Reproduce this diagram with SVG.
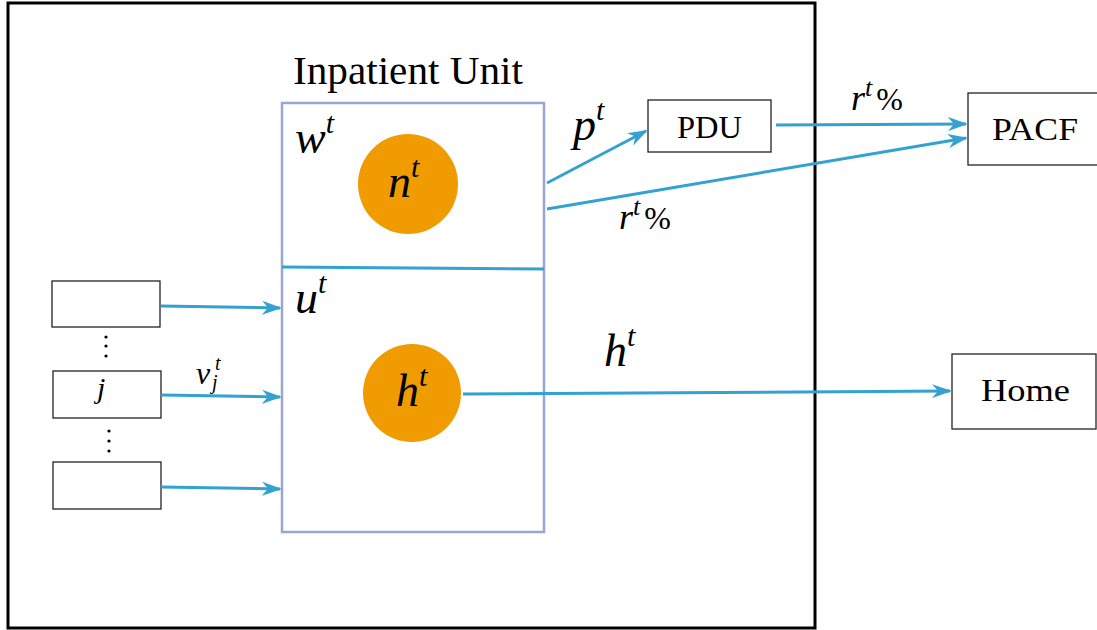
<svg xmlns="http://www.w3.org/2000/svg" width="1097" height="630" viewBox="0 0 1097 630">
<style>
.box{fill:#fff;stroke:#222;stroke-width:1.3}
.conn{fill:none;stroke:#33a2d0;stroke-width:3}
.math{font-family:"Liberation Serif","DejaVu Serif",serif;font-style:italic;fill:#000}
.rm{font-family:"Liberation Serif","DejaVu Serif",serif;fill:#000}
.circ{fill:#f09c00}
</style>
<defs>
<marker id="ah" viewBox="0 0 20 14" refX="18" refY="7" markerWidth="20" markerHeight="14" markerUnits="userSpaceOnUse" orient="auto">
<path d="M0,0 L20,7 L0,14 L6,7 Z" fill="#33a2d0"/>
</marker>
</defs>
<rect width="1097" height="630" fill="#fff"/>
<g id="system">
<rect x="8" y="3" width="807" height="625" fill="none" stroke="#000" stroke-width="3"/>
</g>
<g id="inpatient">
<text x="293" y="84" class="rm" font-size="40" textLength="230" lengthAdjust="spacingAndGlyphs">Inpatient Unit</text>
<rect x="282" y="103" width="262" height="429" fill="none" stroke="#99a6d2" stroke-width="2.5"/>
<text x="295" y="153" class="math" font-size="46">w<tspan dy="-20" font-size="30">t</tspan></text>
<text x="295" y="313" class="math" font-size="46">u<tspan dy="-20" font-size="30">t</tspan></text>
</g>
<g id="n">
<circle cx="408" cy="184" r="50" class="circ"/>
<text x="388" y="197" class="math" font-size="46">n<tspan dy="-20" font-size="30">t</tspan></text>
</g>
<g id="h">
<circle cx="412" cy="393" r="49" class="circ"/>
<text x="396" y="406" class="math" font-size="46">h<tspan dy="-20" font-size="30">t</tspan></text>
</g>
<g id="pdu">
<rect x="648" y="100" width="123" height="52" class="box"/>
<text x="677" y="138" class="rm" font-size="32" textLength="65" lengthAdjust="spacingAndGlyphs">PDU</text>
</g>
<g id="pacf">
<rect x="968" y="93" width="130" height="72" class="box"/>
<text x="992" y="140" class="rm" font-size="32" textLength="86" lengthAdjust="spacingAndGlyphs">PACF</text>
</g>
<g id="home">
<rect x="952" y="354" width="144" height="75" class="box"/>
<text x="981" y="401" class="rm" font-size="32" textLength="89" lengthAdjust="spacingAndGlyphs">Home</text>
</g>
<g id="src1">
<rect x="52" y="281" width="108" height="46" class="box"/>
</g>
<g id="srcj">
<rect x="53" y="371" width="108" height="47" class="box"/>
<text x="97" y="398" class="math" font-size="30">j</text>
</g>
<g id="src3">
<rect x="53" y="462" width="108" height="47" class="box"/>
</g>
<g id="dots">
<circle cx="106" cy="337" r="1.6" fill="#000"/>
<circle cx="106" cy="346" r="1.6" fill="#000"/>
<circle cx="106" cy="356" r="1.6" fill="#000"/>
<circle cx="109" cy="431" r="1.6" fill="#000"/>
<circle cx="109" cy="441" r="1.6" fill="#000"/>
<circle cx="109" cy="451" r="1.6" fill="#000"/>
</g>
<g id="connectors">
<line x1="282" y1="267" x2="544" y2="269" stroke="#33a2d0" stroke-width="3"/>
<line x1="161" y1="306" x2="280" y2="308" class="conn" marker-end="url(#ah)"/>
<line x1="161" y1="395" x2="280" y2="397" class="conn" marker-end="url(#ah)"/>
<line x1="161" y1="487" x2="280" y2="489" class="conn" marker-end="url(#ah)"/>
<line x1="547" y1="183" x2="646" y2="131" class="conn" marker-end="url(#ah)"/>
<line x1="547" y1="209" x2="966" y2="138" class="conn" marker-end="url(#ah)"/>
<line x1="776" y1="125" x2="966" y2="124" class="conn" marker-end="url(#ah)"/>
<line x1="463" y1="394" x2="950" y2="391" class="conn" marker-end="url(#ah)"/>
<text x="196" y="384" class="math" font-size="32">v<tspan x="215" y="370" font-size="20">t</tspan><tspan x="212" y="389" font-size="20">j</tspan></text>
<text x="573" y="140" class="math" font-size="46">p<tspan dy="-20" font-size="30">t</tspan></text>
<text x="619" y="229" class="math" font-size="36">r<tspan dy="-14" font-size="26">t</tspan><tspan dx="4" dy="14" font-size="32" font-style="normal">%</tspan></text>
<text x="851" y="110" class="math" font-size="36">r<tspan dy="-14" font-size="26">t</tspan><tspan dx="4" dy="14" font-size="32" font-style="normal">%</tspan></text>
<text x="604" y="366" class="math" font-size="46">h<tspan dy="-20" font-size="30">t</tspan></text>
</g>
</svg>
